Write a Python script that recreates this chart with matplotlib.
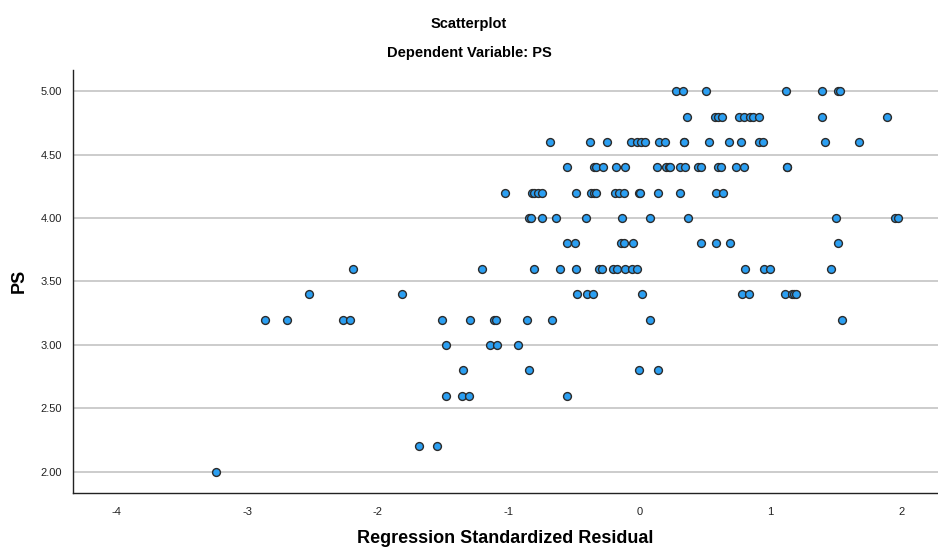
import matplotlib.pyplot as plt

plt.rcParams['font.family'] = ['Liberation Sans', 'DejaVu Sans']

# standardized residuals, one list per PS level
res_500 = [0.275, 0.328, 0.511, 1.122, 1.397, 1.519, 1.534]
res_480 = [0.361, 0.573, 0.598, 0.631, 0.763, 0.796, 0.84, 0.865, 0.916, 1.395, 1.891]
res_460 = [-0.685, -0.376, -0.247, -0.063, -0.021, 0.013, 0.038, 0.145, 0.196, 0.338, 0.342,
           0.527, 0.682, 0.773, 0.916, 0.941, 1.418, 1.674]
res_440 = [-0.557, -0.351, -0.331, -0.28, -0.183, -0.115, 0.135, 0.198, 0.224, 0.234, 0.305,
           0.344, 0.445, 0.466, 0.598, 0.624, 0.733, 0.794, 1.124, 1.126]
res_420 = [-1.025, -0.822, -0.807, -0.776, -0.743, -0.483, -0.369, -0.349, -0.331, -0.191,
           -0.158, -0.122, -0.005, 0.005, 0.14, 0.311, 0.585, 0.636]
res_400 = [-0.847, -0.827, -0.743, -0.636, -0.412, -0.135, 0.076, 0.369, 1.502, 1.952, 1.972]
res_380 = [-0.555, -0.491, -0.14, -0.122, -0.051, 0.466, 0.585, 0.692, 1.519]
res_360 = [-2.189, -1.201, -0.807, -0.611, -0.489, -0.311, -0.285, -0.204, -0.17, -0.115,
           -0.056, -0.021, 0.809, 0.947, 0.998, 1.463]
res_340 = [-2.524, -1.812, -0.476, -0.399, -0.356, 0.02, 0.784, 0.835, 1.112, 1.165, 1.183, 1.196]
res_320 = [-2.863, -2.697, -2.265, -2.214, -1.509, -1.298, -1.115, -1.094, -0.86, -0.669,
           0.08, 1.545]
res_300 = [-1.476, -1.145, -1.087, -0.929]
res_280 = [-1.349, -0.847, -0.005, 0.14]
res_260 = [-1.476, -1.354, -1.305, -0.552]
res_220 = [-1.685, -1.545]
res_200 = [-3.237]

ps_levels = [5.0, 4.8, 4.6, 4.4, 4.2, 4.0, 3.8, 3.6, 3.4, 3.2, 3.0, 2.8, 2.6, 2.2, 2.0]
res_rows = [res_500, res_480, res_460, res_440, res_420, res_400, res_380, res_360,
            res_340, res_320, res_300, res_280, res_260, res_220, res_200]

resid = []
ps = []
for level, row in zip(ps_levels, res_rows):
    resid += row
    ps += [level] * len(row)

x_ticks = [-4, -3, -2, -1, 0, 1, 2]
y_ticks = [2.0, 2.5, 3.0, 3.5, 4.0, 4.5, 5.0]

fig = plt.figure(figsize=(9.38, 5.48), dpi=100)
ax = fig.add_axes([0.0778, 0.1004, 0.9222, 0.7719])

ax.scatter(resid, ps, s=32, facecolor='#2b9ff2', edgecolor='#2b2b2b',
           linewidth=1.0, zorder=3)

ax.set_xlim(-4.33, 2.28)
ax.set_ylim(1.832, 5.168)
ax.set_xticks(x_ticks)
ax.set_xticklabels([str(t) for t in x_ticks])
ax.set_yticks(y_ticks)
ax.set_yticklabels(['%.2f' % t for t in y_ticks])
ax.tick_params(axis='both', length=0, labelsize=8, colors='#222222')
ax.tick_params(axis='x', pad=10)
ax.tick_params(axis='y', pad=8)

ax.grid(axis='y', color='#c4c4c4', linewidth=1.2, zorder=0)
ax.set_axisbelow(True)
for side in ['top', 'right']:
    ax.spines[side].set_visible(False)
for side in ['left', 'bottom']:
    ax.spines[side].set_color('#222222')
    ax.spines[side].set_linewidth(1.0)

# axis titles placed as figure text to match the reference spacing
fig.text(0.539, 0.017, 'Regression Standardized Residual', ha='center', va='center',
         fontsize=13, fontweight='bold')
fig.text(0.020, 0.487, 'PS', ha='center', va='center', rotation=90,
         fontsize=13, fontweight='bold')

fig.text(0.5, 0.956, 'Scatterplot', ha='center', va='center', fontsize=10.5, fontweight='bold')
fig.text(0.5, 0.903, 'Dependent Variable: PS', ha='center', va='center', fontsize=10.5,
         fontweight='bold')

fig.savefig('out.png', dpi=100)
